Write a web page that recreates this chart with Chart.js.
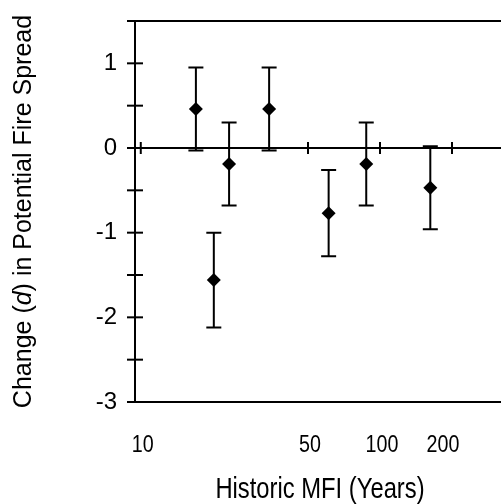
<!DOCTYPE html>
<html>
<head>
<meta charset="utf-8">
<script src="https://cdn.jsdelivr.net/npm/chart.js@4.4.1/dist/chart.umd.min.js"></script>
<style>
    body { margin: 0; background: #fff; overflow: hidden; }
    #wrap { width: 501px; height: 504px; position: relative; }
</style>
</head>
<body>
<div id="wrap"><canvas id="mfiChart"></canvas></div>
<script>
// Historic MFI (years) for each site group
const mfiYears = [17.0, 20.2, 23.4, 34.4, 61.0, 87.6, 162.3];
// Change (d) in potential fire spread
const changeD = [0.46, -1.56, -0.19, 0.46, -0.77, -0.19, -0.47];
// error bar half-length
const errD = [0.49, 0.56, 0.49, 0.49, 0.51, 0.49, 0.49];

const xTickValues = [10, 50, 100, 200];
const xTickLabels = ['10', '50', '100', '200'];
const yMin = -3;
const yMax = 1.5;
const yStep = 0.5;

const fontFamily = '"Liberation Sans", Arial, sans-serif';

// draw text squeezed horizontally (the x axis texts are in a narrow face)
function narrowText(ctx, text, x, y, size) {
    ctx.save();
    ctx.font = size + 'px ' + fontFamily;
    ctx.textAlign = 'center';
    ctx.textBaseline = 'middle';
    ctx.fillStyle = '#000';
    ctx.translate(x, y);
    ctx.scale(0.82, 1);
    ctx.fillText(text, 0, 0);
    ctx.restore();
}

// axes frame, zero line, crossing ticks and error bars
const framePlugin = {
    id: 'frame',
    beforeDatasetsDraw(chart) {
        const ctx = chart.ctx;
        const area = chart.chartArea;
        const xs = chart.scales.x;
        const ys = chart.scales.y;
        ctx.save();
        ctx.strokeStyle = '#000';
        ctx.lineWidth = 2;

        // top, left, bottom lines (right side runs off the picture)
        ctx.beginPath();
        ctx.moveTo(area.right + 2, area.top);
        ctx.lineTo(area.left, area.top);
        ctx.lineTo(area.left, area.bottom);
        ctx.lineTo(area.right + 2, area.bottom);
        ctx.stroke();

        // zero line
        const y0 = ys.getPixelForValue(0);
        ctx.beginPath();
        ctx.moveTo(area.left, y0);
        ctx.lineTo(area.right + 2, y0);
        ctx.stroke();

        // y ticks crossing the axis
        ys.ticks.forEach(t => {
            const py = ys.getPixelForValue(t.value);
            ctx.beginPath();
            ctx.moveTo(area.left - 8, py);
            ctx.lineTo(area.left + 8, py);
            ctx.stroke();
        });

        // x ticks on the zero line
        xTickValues.forEach(v => {
            const px = xs.getPixelForValue(v);
            if (px <= area.left + 3) return;
            ctx.beginPath();
            ctx.moveTo(px, y0 - 6);
            ctx.lineTo(px, y0 + 6);
            ctx.stroke();
        });

        // error bars
        ctx.lineWidth = 2;
        mfiYears.forEach((x, i) => {
            const px = xs.getPixelForValue(x);
            const top = ys.getPixelForValue(changeD[i] + errD[i]);
            const bot = ys.getPixelForValue(changeD[i] - errD[i]);
            ctx.beginPath();
            ctx.moveTo(px, top);
            ctx.lineTo(px, bot);
            ctx.moveTo(px - 7.5, top);
            ctx.lineTo(px + 7.5, top);
            ctx.moveTo(px - 7.5, bot);
            ctx.lineTo(px + 7.5, bot);
            ctx.stroke();
        });
        ctx.restore();
    },
    afterDraw(chart) {
        const ctx = chart.ctx;
        const area = chart.chartArea;
        const xs = chart.scales.x;

        // x tick labels and title
        xTickValues.forEach((v, i) => {
            const nudge = v === 200 ? -9 : 2;
            narrowText(ctx, xTickLabels[i], xs.getPixelForValue(v) + nudge, 445, 24);
        });
        narrowText(ctx, 'Historic MFI (Years)', 320, 490, 29);

        // y title with italic d
        const parts = [
            { text: 'Change (', font: '25px ' + fontFamily },
            { text: 'd', font: 'italic 25px ' + fontFamily },
            { text: ') in Potential Fire Spread', font: '25px ' + fontFamily }
        ];
        ctx.save();
        let total = 0;
        parts.forEach(p => {
            ctx.font = p.font;
            p.w = ctx.measureText(p.text).width;
            total += p.w;
        });
        ctx.translate(24, (area.top + area.bottom) / 2);
        ctx.rotate(-Math.PI / 2);
        ctx.fillStyle = '#000';
        ctx.textBaseline = 'middle';
        ctx.textAlign = 'left';
        let cx = -total / 2;
        parts.forEach(p => {
            ctx.font = p.font;
            ctx.fillText(p.text, cx, 0);
            cx += p.w;
        });
        ctx.restore();
    }
};

function createChart() {
    const ctx = document.getElementById('mfiChart').getContext('2d');
    const points = mfiYears.map((x, i) => ({ x: x, y: changeD[i] }));

    new Chart(ctx, {
        type: 'scatter',
        data: {
            datasets: [{
                data: points,
                pointStyle: 'rectRot',
                pointRadius: 7,
                pointHoverRadius: 7,
                backgroundColor: '#000',
                borderColor: '#000',
                borderWidth: 0
            }]
        },
        options: {
            responsive: true,
            maintainAspectRatio: false,
            animation: false,
            layout: { autoPadding: false, padding: { top: 21, right: 0, left: 0, bottom: 0 } },
            plugins: {
                legend: { display: false },
                tooltip: { enabled: false }
            },
            scales: {
                x: {
                    type: 'logarithmic',
                    min: 9.46,
                    max: 320.5,
                    border: { display: false },
                    grid: { display: false, drawTicks: false },
                    afterBuildTicks: scale => {
                        scale.ticks = xTickValues.map(v => ({ value: v }));
                    },
                    afterFit: scale => {
                        scale.height = 102;
                        scale.paddingLeft = 0;
                        scale.paddingRight = 0;
                        scale.paddingTop = 0;
                        scale.paddingBottom = 0;
                    },
                    ticks: { display: false },
                    title: { display: false }
                },
                y: {
                    min: yMin,
                    max: yMax,
                    border: { display: false },
                    grid: { display: false, drawTicks: false },
                    afterFit: scale => {
                        scale.width = 135;
                        scale.paddingLeft = 0;
                        scale.paddingRight = 0;
                        scale.paddingTop = 0;
                        scale.paddingBottom = 0;
                    },
                    ticks: {
                        stepSize: yStep,
                        padding: 18,
                        color: '#000',
                        font: { family: fontFamily, size: 24 },
                        callback: v => Number.isInteger(v) ? String(v) : ''
                    }
                }
            }
        },
        plugins: [framePlugin]
    });
}

window.addEventListener('DOMContentLoaded', function() {
    createChart();
});
</script>
</body>
</html>
